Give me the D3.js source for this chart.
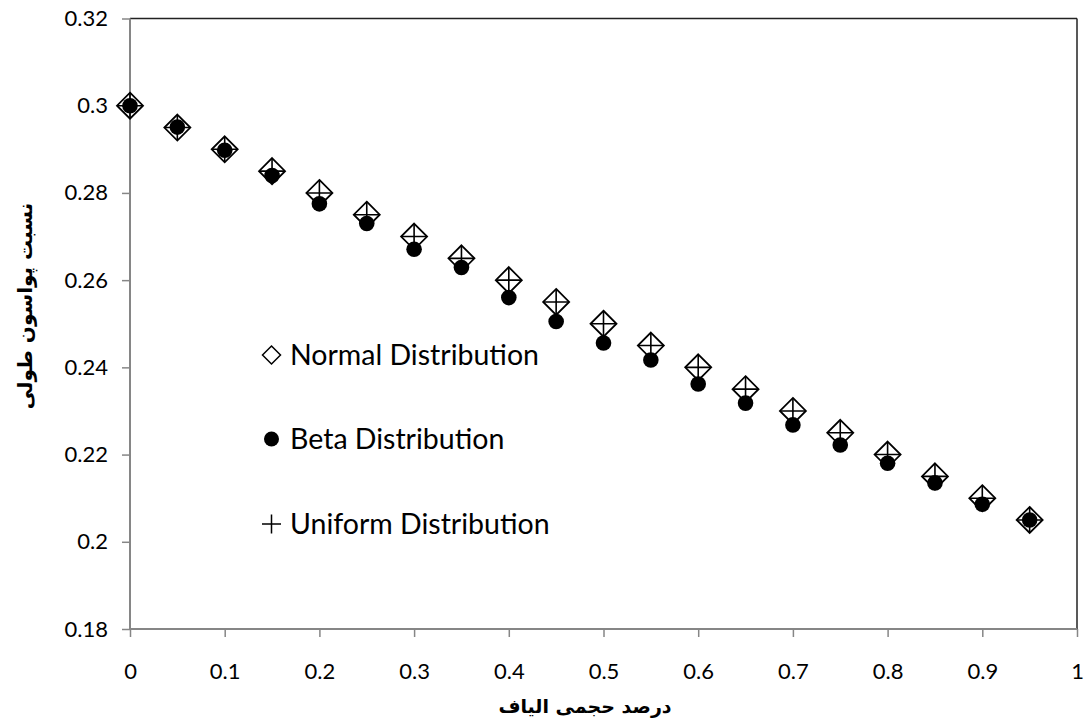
<!DOCTYPE html>
<html>
<head>
<meta charset="utf-8">
<script src="https://cdn.jsdelivr.net/npm/d3@7"></script>
<style>
  html, body { margin: 0; padding: 0; background: #fff; }
  svg { display: block; }
</style>
</head>
<body>
<svg id="chart" width="1090" height="724"></svg>
<script>
// Fiber volume fraction (x) and longitudinal Poisson's ratio (y)
const fraction = [0, 0.05, 0.1, 0.15, 0.2, 0.25, 0.3, 0.35, 0.4, 0.45, 0.5, 0.55, 0.6, 0.65, 0.7, 0.75, 0.8, 0.85, 0.9, 0.95];
const normalVals = [0.300, 0.295, 0.290, 0.285, 0.280, 0.275, 0.270, 0.265, 0.260, 0.255, 0.250, 0.245, 0.240, 0.235, 0.230, 0.225, 0.220, 0.215, 0.210, 0.205];
const betaVals = [0.300, 0.2951, 0.2898, 0.2840, 0.2775, 0.2730, 0.2671, 0.2629, 0.2560, 0.2505, 0.2456, 0.2417, 0.2362, 0.2318, 0.2268, 0.2222, 0.2180, 0.2135, 0.2086, 0.2050];
const uniformVals = [0.300, 0.295, 0.290, 0.285, 0.280, 0.275, 0.270, 0.265, 0.260, 0.255, 0.250, 0.245, 0.240, 0.235, 0.230, 0.225, 0.220, 0.215, 0.210, 0.205];
const xTicks = [0, 0.1, 0.2, 0.3, 0.4, 0.5, 0.6, 0.7, 0.8, 0.9, 1];
const yTicks = [0.18, 0.2, 0.22, 0.24, 0.26, 0.28, 0.3, 0.32];
const legendLabels = ["Normal Distribution", "Beta Distribution", "Uniform Distribution"];
const xTitle = "درصد حجمی الیاف";
const yTitle = "نسبت پواسون طولی";

const svg = d3.select("#chart");
const plotL = 130, plotR = 1077, plotT = 18.5, plotB = 629;
const latin = "Lato, 'Open Sans', sans-serif";
const arabic = "'DejaVu Sans', sans-serif";

const x = d3.scaleLinear().domain([0, 1]).range([plotL, plotR]);
const y = d3.scaleLinear().domain([0.18, 0.32]).range([plotB, plotT]);

// Plot area frame: top and right edges
svg.append("line").attr("x1", plotL).attr("x2", plotR).attr("y1", plotT).attr("y2", plotT)
  .attr("stroke", "#222").attr("stroke-width", 1.5);
svg.append("line").attr("x1", plotR).attr("x2", plotR).attr("y1", plotT).attr("y2", plotB)
  .attr("stroke", "#222").attr("stroke-width", 1.5);

// Axes
const xAxis = d3.axisBottom(x).tickValues(xTicks).tickSize(8).tickPadding(26)
  .tickFormat(d => d3.format("")(+d.toFixed(1)));
const yAxis = d3.axisLeft(y).tickValues(yTicks).tickSize(8).tickPadding(14)
  .tickFormat(d => d3.format("")(+d.toFixed(2)));

const gx = svg.append("g").attr("transform", `translate(0,${plotB})`).call(xAxis);
const gy = svg.append("g").attr("transform", `translate(${plotL},0)`).call(yAxis);
[gx, gy].forEach(g => {
  g.select(".domain").attr("stroke", "#868686").attr("stroke-width", 2);
  g.selectAll(".tick line").attr("stroke", "#868686").attr("stroke-width", 1.5);
  g.selectAll(".tick text").attr("fill", "#000").style("font-family", latin).style("font-size", "22px");
});
gx.select(".domain").attr("d", `M${plotL},0H${plotR}`);
gy.select(".domain").attr("d", `M0,${plotB}V${plotT}`);

// Markers: diamond (Normal), filled circle (Beta), plus (Uniform)
const diamondPath = r => `M0,${-r}L${r},0L0,${r}L${-r},0Z`;
const plusPath = r => `M${-r},0H${r}M0,${-r}V${r}`;

svg.append("g").selectAll("path").data(fraction).join("path")
  .attr("transform", (d, i) => `translate(${x(d)},${y(normalVals[i])})`)
  .attr("d", diamondPath(13))
  .attr("fill", "none").attr("stroke", "#000").attr("stroke-width", 1.8);

svg.append("g").selectAll("circle").data(fraction).join("circle")
  .attr("cx", d => x(d)).attr("cy", (d, i) => y(betaVals[i]))
  .attr("r", 7.8).attr("fill", "#000");

svg.append("g").selectAll("path").data(fraction).join("path")
  .attr("transform", (d, i) => `translate(${x(d)},${y(uniformVals[i])})`)
  .attr("d", plusPath(12.5))
  .attr("fill", "none").attr("stroke", "#000").attr("stroke-width", 1.6);

// Legend
const legendY = [355, 439, 524];
const lg = svg.append("g");
lg.append("path").attr("transform", `translate(271.5,${legendY[0]})`).attr("d", diamondPath(9))
  .attr("fill", "none").attr("stroke", "#000").attr("stroke-width", 1.5);
lg.append("circle").attr("cx", 271.5).attr("cy", legendY[1]).attr("r", 7.5).attr("fill", "#000");
lg.append("path").attr("transform", `translate(271.5,${legendY[2]})`).attr("d", plusPath(9.5))
  .attr("fill", "none").attr("stroke", "#000").attr("stroke-width", 1.5);
lg.selectAll("text").data(legendLabels).join("text")
  .attr("x", 290).attr("y", (d, i) => legendY[i] + 10)
  .style("font-family", latin).style("font-size", "28.5px").attr("fill", "#000")
  .text(d => d);

// Axis titles
svg.append("text").attr("x", 585).attr("y", 713).attr("text-anchor", "middle")
  .attr("direction", "rtl")
  .style("font-family", arabic).style("font-weight", "bold").style("font-size", "19px")
  .text(xTitle);
svg.append("text").attr("transform", "translate(32,306) rotate(-90)").attr("text-anchor", "middle")
  .attr("direction", "rtl")
  .style("font-family", arabic).style("font-weight", "bold").style("font-size", "20px")
  .text(yTitle);
</script>
</body>
</html>
